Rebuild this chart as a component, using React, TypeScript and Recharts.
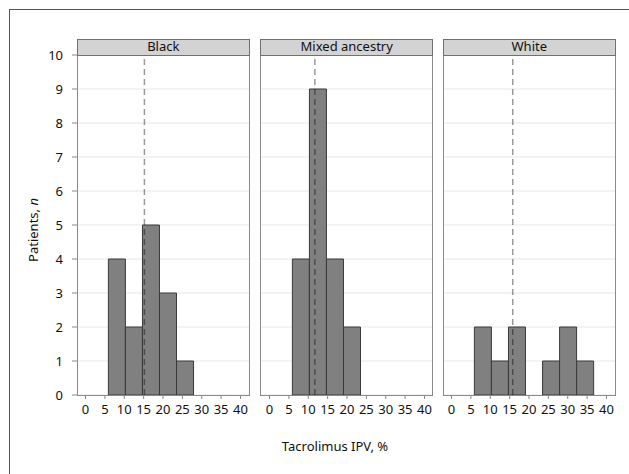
import { BarChart, Bar, XAxis, YAxis, CartesianGrid, ReferenceLine } from "recharts";

// histogram bins (centre of each 4.4-wide bin, %)
const binCenters = [8.1, 12.5, 16.9, 21.3, 25.7, 30.1, 34.5];
const blackCounts = [4, 2, 5, 3, 1, 0, 0];
const mixedCounts = [4, 9, 4, 2, 0, 0, 0];
const whiteCounts = [2, 1, 2, 0, 1, 2, 1];
const panelNames = ["Black", "Mixed ancestry", "White"];
const medians = [15.2, 11.7, 15.8];
const xTicks = [0, 5, 10, 15, 20, 25, 30, 35, 40];
const yTicks = [0, 1, 2, 3, 4, 5, 6, 7, 8, 9, 10];

const FONT = "'Noto Sans', sans-serif";
const PLOT_TOP = 55;
const PLOT_H = 340;
const PLOT_W = 172;
const TOP_PAD = 15;
const panelLefts = [77.3, 260.7, 443.3];
const X_DOMAIN: [number, number] = [-2.2, 42.2];

function Panel({ idx, counts }: { idx: number; counts: number[] }) {
  const data = binCenters.map((x, i) => ({ x, n: counts[i] }));
  const first = idx === 0;
  const yW = first ? 45 : 0;
  const mLeft = first ? 0 : 5;
  const left = panelLefts[idx] - yW - mLeft;
  const w = yW + mLeft + PLOT_W + 5;
  const h = TOP_PAD + PLOT_H + 40;
  return (
    <>
      <div style={{ position: "absolute", left, top: PLOT_TOP - TOP_PAD }}>
        <BarChart
          width={w}
          height={h}
          data={data}
          margin={{ top: TOP_PAD, right: 5, bottom: 0, left: mLeft }}
          barCategoryGap={0}
          barGap={0}
        >
          <CartesianGrid vertical={false} stroke="#e8e8e8" strokeWidth={1.2} />
          <XAxis
            dataKey="x"
            type="number"
            domain={X_DOMAIN}
            ticks={xTicks}
            interval={0}
            axisLine={false}
            tickSize={4}
            tickMargin={6}
            height={40}
            tickLine={{ stroke: "#888" }}
            tick={{ fontSize: 13, fill: "#111", fontFamily: FONT }}
          />
          <YAxis
            hide={!first}
            width={yW}
            domain={[0, 10]}
            ticks={yTicks}
            interval={0}
            axisLine={false}
            tickSize={5}
            tickMargin={9}
            tickLine={{ stroke: "#888" }}
            tick={{ fontSize: 13, fill: "#111", fontFamily: FONT }}
          />
          <Bar dataKey="n" fill="#808080" stroke="#3a3a3a" strokeWidth={1} isAnimationActive={false} />
        </BarChart>
      </div>
      {/* dashed median line drawn on top of the bars */}
      <div style={{ position: "absolute", left, top: PLOT_TOP - TOP_PAD, pointerEvents: "none" }}>
        <BarChart
          width={w}
          height={h}
          data={data}
          margin={{ top: TOP_PAD, right: 5, bottom: 40, left: yW + mLeft }}
          barCategoryGap={0}
        >
          <XAxis dataKey="x" type="number" domain={X_DOMAIN} hide />
          <YAxis domain={[0, 10]} hide />
          <Bar dataKey="n" fill="none" stroke="none" isAnimationActive={false} />
          <ReferenceLine
            x={medians[idx]}
            stroke="#000"
            strokeOpacity={0.4}
            strokeWidth={1.5}
            strokeDasharray="6 4"
          />
        </BarChart>
      </div>
      <div
        style={{
          position: "absolute",
          left: panelLefts[idx] - 0.75,
          top: PLOT_TOP - 0.75,
          width: PLOT_W + 1.5,
          height: PLOT_H + 1.5,
          border: "1.5px solid #8a8a8a",
          boxSizing: "border-box",
          pointerEvents: "none",
        }}
      />
      <div
        style={{
          position: "absolute",
          left: panelLefts[idx] - 0.75,
          top: 39,
          width: PLOT_W + 1.5,
          height: PLOT_TOP - 39 + 0.75,
          border: "1.5px solid #707070",
          background: "#d3d3d3",
          boxSizing: "border-box",
          fontFamily: FONT,
          fontSize: 13,
          lineHeight: "13px",
          textAlign: "center",
          color: "#111",
        }}
      >
        {panelNames[idx]}
      </div>
    </>
  );
}

export default function App() {
  return (
    <div style={{ position: "absolute", left: 0, top: 0, width: 629, height: 474, overflow: "hidden", background: "#fff" }}>
      <div
        style={{
          position: "absolute",
          left: 9,
          top: 9,
          width: 640,
          height: 480,
          borderTop: "1.5px solid #555",
          borderLeft: "1.5px solid #555",
        }}
      />
      <Panel idx={0} counts={blackCounts} />
      <Panel idx={1} counts={mixedCounts} />
      <Panel idx={2} counts={whiteCounts} />
      <div
        style={{
          position: "absolute",
          left: 33,
          top: 230,
          transform: "translate(-50%, -50%) rotate(-90deg)",
          fontFamily: FONT,
          fontSize: 13,
          whiteSpace: "nowrap",
          color: "#111",
        }}
      >
        Patients, <i>n</i>
      </div>
      <div
        style={{
          position: "absolute",
          left: 335,
          top: 446,
          transform: "translate(-50%, -50%)",
          fontFamily: FONT,
          fontSize: 13,
          whiteSpace: "nowrap",
          color: "#111",
        }}
      >
        Tacrolimus IPV, %
      </div>
    </div>
  );
}
